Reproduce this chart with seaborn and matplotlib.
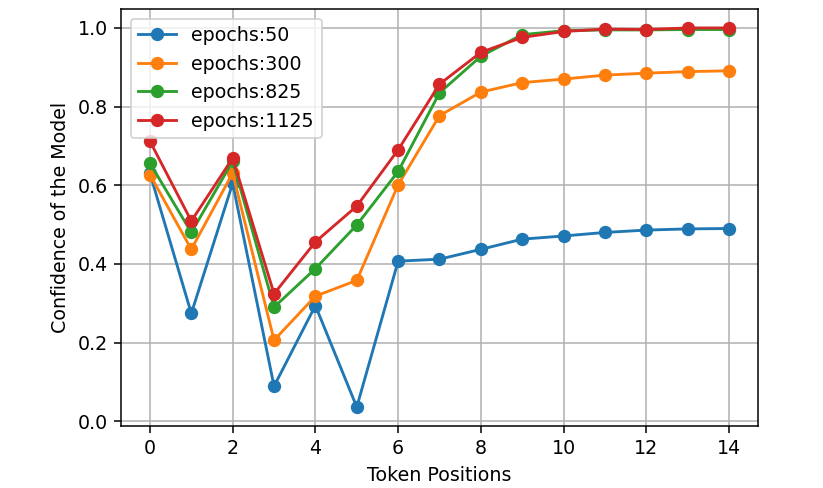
import matplotlib
matplotlib.use("Agg")
import matplotlib.pyplot as plt
import pandas as pd
import seaborn as sns

positions = list(range(15))
series_names = ["epochs:50", "epochs:300", "epochs:825", "epochs:1125"]
conf_50 = [0.630, 0.274, 0.605, 0.089, 0.294, 0.036, 0.407, 0.412, 0.437,
           0.463, 0.471, 0.480, 0.486, 0.489, 0.490]
conf_300 = [0.627, 0.437, 0.631, 0.206, 0.318, 0.358, 0.601, 0.777, 0.837,
            0.861, 0.870, 0.880, 0.885, 0.889, 0.891]
conf_825 = [0.656, 0.480, 0.661, 0.290, 0.388, 0.499, 0.635, 0.835, 0.928,
            0.983, 0.993, 0.995, 0.995, 0.996, 0.996]
conf_1125 = [0.712, 0.509, 0.669, 0.324, 0.456, 0.547, 0.690, 0.857, 0.938,
             0.976, 0.991, 0.997, 0.996, 1.000, 1.000]
colors = ["#1f77b4", "#ff7f0e", "#2ca02c", "#d62728"]

rows = []
for name, vals in zip(series_names, [conf_50, conf_300, conf_825, conf_1125]):
    for p, v in zip(positions, vals):
        rows.append({"Token Positions": p, "Confidence": v, "run": name})
df = pd.DataFrame(rows)

plt.rcParams["font.size"] = 10
fig = plt.figure(figsize=(823 / 137, 488 / 137), dpi=137)
ax = fig.add_axes([121 / 823, 62 / 488, 637 / 823, 417 / 488])

sns.lineplot(data=df, x="Token Positions", y="Confidence", hue="run",
             hue_order=series_names, palette=dict(zip(series_names, colors)),
             marker="o", markersize=7, markeredgewidth=0, errorbar=None, ax=ax)

ax.grid(True, color="#b0b0b0", linewidth=0.8)
ax.set_xlabel("Token Positions")
ax.set_ylabel("Confidence of the Model")
sns.move_legend(ax, "upper left", title=None)

fig.savefig("out.png", dpi=137)
